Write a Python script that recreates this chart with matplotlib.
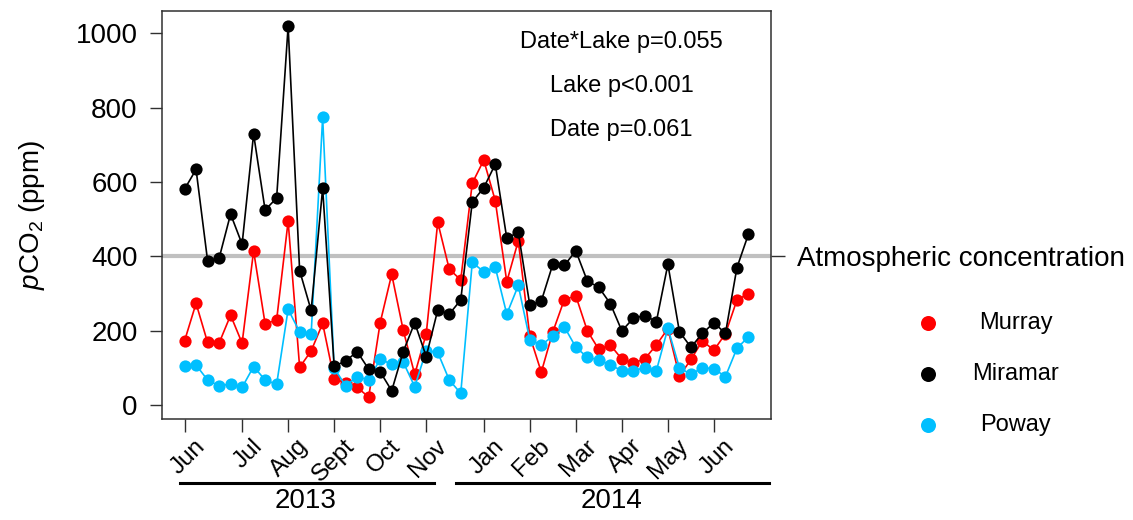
import matplotlib
matplotlib.use("Agg")
import matplotlib.pyplot as plt
import matplotlib.transforms as mtransforms
from matplotlib.lines import Line2D

plt.rcParams['font.family'] = ['Liberation Sans', 'DejaVu Sans']
plt.rcParams['mathtext.fontset'] = 'custom'
plt.rcParams['mathtext.rm'] = 'Liberation Sans'
plt.rcParams['mathtext.it'] = 'Liberation Sans:italic'

# pCO2 (ppm) for each sampling event, June 2013 - June 2014
murray = [173, 274, 169, 167, 242, 167, 415, 219, 229, 495,
          102, 146, 220, 70, 61, 48, 22, 222, 352, 202,
          83, 192, 492, 366, 337, 597, 659, 550, 332, 442,
          186, 89, 197, 284, 294, 200, 150, 162, 124, 113,
          125, 162, 206, 78, 123, 173, 148, 192, 283, 300]
miramar = [581, 634, 389, 395, 514, 433, 729, 525, 557, 1019,
           362, 255, 583, 105, 119, 144, 97, 90, 39, 144,
           222, 131, 256, 245, 283, 546, 585, 648, 449, 465,
           269, 280, 379, 376, 415, 334, 317, 273, 200, 234,
           241, 225, 379, 198, 156, 193, 222, 193, 370, 460]
poway = [106, 108, 68, 52, 57, 48, 104, 68, 56, 258,
         197, 191, 774, 100, 52, 77, 68, 124, 110, 116,
         50, 147, 142, 68, 32, 384, 359, 371, 245, 322,
         176, 162, 186, 211, 156, 129, 122, 108, 93, 93,
         101, 93, 207, 101, 83, 101, 98, 77, 153, 184]

month_pos = [0, 5, 9, 13, 17, 21, 26, 30, 34, 38, 42, 46]
month_labels = ['Jun', 'Jul', 'Aug', 'Sept', 'Oct', 'Nov',
                'Jan', 'Feb', 'Mar', 'Apr', 'May', 'Jun']
years = ['2013', '2014']
year_spans = [(-0.43, 21.66), (23.57, 50.8)]
year_centers = [10.5, 37.1]

atmospheric = 400
stats_text = ['Date*Lake p=0.055', 'Lake p<0.001', 'Date p=0.061']

lakes = ['Murray', 'Miramar', 'Poway']
colors = {'Murray': '#ff0000', 'Miramar': '#000000', 'Poway': '#00bfff'}
series = {'Murray': murray, 'Miramar': miramar, 'Poway': poway}

W, H = 1133, 520
fig = plt.figure(figsize=(W / 100, H / 100), dpi=100)
ax = fig.add_axes([162 / W, 1 - 419 / H, (771 - 162) / W, (419 - 11) / H])

x = list(range(len(murray)))
ax.axhline(atmospheric, color='#c0c0c0', lw=3.0, zorder=1)
for lake in ['Murray', 'Poway', 'Miramar']:
    ax.plot(x, series[lake], color=colors[lake], lw=1.2, marker='o',
            markersize=8.8, markeredgewidth=0, zorder=3)

ax.set_xlim(-1.96, 50.96)
ax.set_ylim(-37, 1060)
ax.set_yticks([0, 200, 400, 600, 800, 1000])
ax.tick_params(axis='y', labelsize=20, length=8.6, width=1.0, pad=9,
               color='#303030')
ax.set_xticks(month_pos)
ax.set_xticklabels([])
ax.tick_params(axis='x', length=9.5, width=1.0, color='#303030')
for sp in ax.spines.values():
    sp.set_color('#303030')
    sp.set_linewidth(1.1)

# rotated month labels
off = mtransforms.offset_copy(ax.get_xaxis_transform(), fig=fig, x=17, y=0,
                              units='dots')
for p, lab in zip(month_pos, month_labels):
    ax.text(p, (419 - 443) / 408, lab, transform=off, rotation=45,
            rotation_mode='anchor', ha='right', va='center', fontsize=17.5,
            clip_on=False)

# year brackets
tx = ax.get_xaxis_transform()
for (a, b), c, yr in zip(year_spans, year_centers, years):
    ax.add_line(Line2D([a, b], [(419 - 483) / 408] * 2, transform=tx,
                       color='black', lw=2.2, clip_on=False))
    ax.text(c, (419 - 501) / 408, yr, transform=tx, ha='center',
            va='center', fontsize=20, clip_on=False)

# atmospheric reference label on the right
sec = ax.secondary_yaxis('right')
sec.set_yticks([atmospheric])
sec.set_yticklabels(['Atmospheric concentration'])
sec.tick_params(labelsize=20, length=10, width=1.0, pad=9, color='#303030')
sec.spines['right'].set_visible(False)

# statistics text
for i, s in enumerate(stats_text):
    fig.text(621.7 / W, 1 - (42 + 44 * i) / H, s, ha='center', va='center',
             fontsize=17)

fig.text(32 / W, 1 - 215 / H, r'$p$CO$_2$ (ppm)', rotation=90,
         ha='center', va='center', fontsize=20)

# legend
for i, lake in enumerate(lakes):
    yy = 1 - (322.7 + 51.2 * i) / H
    fig.add_artist(Line2D([927.7 / W], [yy], marker='o', markersize=10.8,
                          markeredgewidth=0, color=colors[lake],
                          linestyle='none'))
    fig.text(1016 / W, yy, lake, ha='center', va='center', fontsize=17)

fig.savefig('out.png', dpi=100)
